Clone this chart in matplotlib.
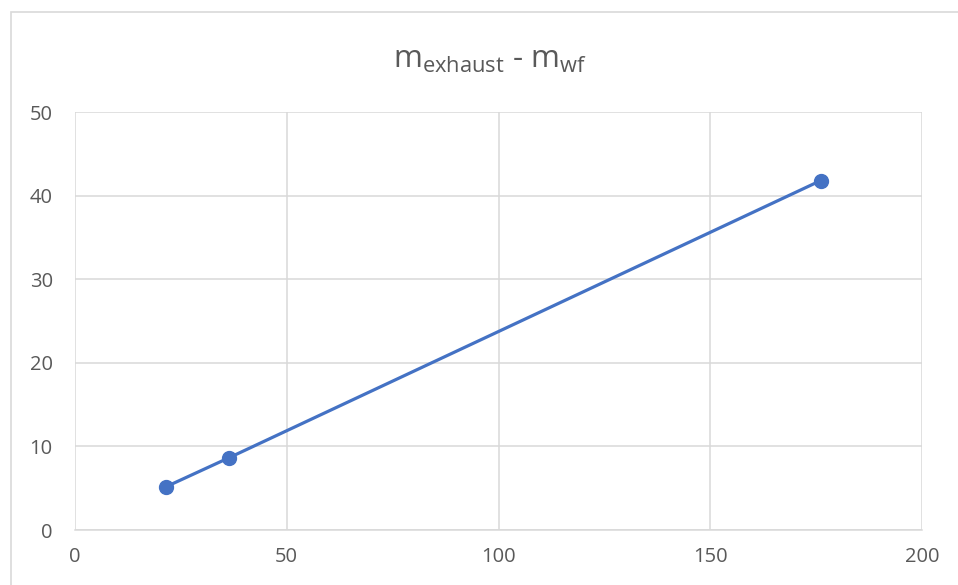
import matplotlib.pyplot as plt
from matplotlib.patches import Rectangle

# Data
x_values = [21.6, 36.4, 176.1]
y_values = [5.2, 8.65, 41.8]
x_ticks = [0, 50, 100, 150, 200]
y_ticks = [0, 10, 20, 30, 40, 50]

plt.rcParams['font.family'] = ['Open Sans', 'DejaVu Sans']

W, H = 958, 585
fig = plt.figure(figsize=(W / 100, H / 100), dpi=100)

# Chart frame (runs off the right and bottom edges)
fig.patches.append(Rectangle((11 / W, -0.1), 1.2, 1.1 - 12 / H, transform=fig.transFigure,
                             fill=False, edgecolor='#D9D9D9', linewidth=1.2))

ax = fig.add_axes([75 / W, 1 - 530 / H, (922 - 75) / W, (530 - 112) / H])
ax.plot(x_values, y_values, color='#4472C4', linewidth=2.3, marker='o',
        markersize=10, zorder=3, clip_on=False)

ax.set_xlim(0, 200)
ax.set_ylim(0, 50)
ax.set_xticks(x_ticks)
ax.set_yticks(y_ticks)
ax.grid(True, color='#D9D9D9', linewidth=1.1)
ax.set_axisbelow(True)
for side in ['top', 'right', 'left']:
    ax.spines[side].set_visible(False)
ax.spines['bottom'].set_color('#D9D9D9')
ax.spines['bottom'].set_linewidth(1.1)
ax.tick_params(length=0, labelsize=14.5, labelcolor='#595959')
ax.tick_params(axis='x', pad=12)
ax.tick_params(axis='y', pad=16)

fig.text(490 / W, 1 - 68 / H, r'm$_{\mathregular{exhaust}}$ - m$_{\mathregular{wf}}$',
         ha='center', va='baseline', fontsize=22.5, color='#595959')

fig.savefig('out.png', dpi=100)
